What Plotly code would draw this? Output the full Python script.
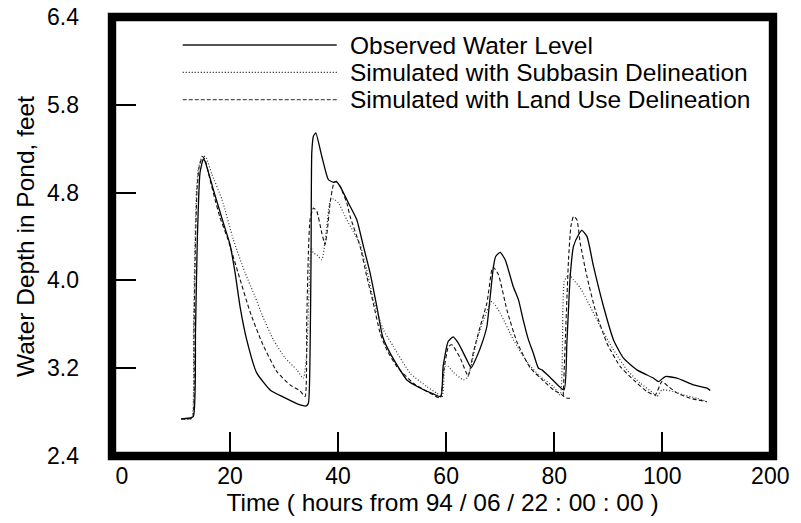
import plotly.graph_objects as go

# ---- data (hours from 94/06/22 00:00, water depth in feet) ----
obs_t = [10.93, 12.22, 13.20, 13.61, 13.94, 14.44, 15.06, 15.37, 16.91, 18.76,
         20.00, 20.93, 21.85, 23.09, 24.94, 27.41, 29.81, 32.96, 34.07, 34.50,
         34.81, 35.00, 35.13, 35.43, 35.87, 36.98, 38.20, 39.13, 39.63, 40.37,
         42.22, 43.46, 44.69, 45.93, 47.17, 48.24, 49.63, 52.72, 55.19, 57.59,
         59.02, 59.44, 60.37, 61.30, 62.22, 63.83, 64.63, 65.69, 66.85, 67.54,
         68.15, 68.76, 69.17, 70.00, 70.93, 72.41, 73.39, 74.26, 75.24, 76.11,
         77.09, 77.72, 79.26, 81.81, 82.35, 82.96, 83.57, 84.50, 85.13, 86.06,
         87.28, 89.13, 90.98, 92.83, 95.31, 98.39, 99.31, 100.56, 102.72, 105.80,
         108.28, 108.89]
obs_v = [2.738, 2.744, 2.759, 3.550, 4.371, 4.982, 5.107, 5.085, 4.827, 4.523,
         4.325, 4.070, 3.762, 3.458, 3.157, 3.002, 2.938, 2.865, 2.856, 2.881,
         3.340, 4.252, 5.165, 5.313, 5.344, 5.131, 4.918, 4.894, 4.903, 4.857,
         4.675, 4.553, 4.310, 4.067, 3.762, 3.489, 3.337, 3.093, 3.020, 2.966,
         2.941, 3.215, 3.443, 3.486, 3.431, 3.276, 3.203, 3.306, 3.458, 3.580,
         3.851, 4.127, 4.218, 4.255, 4.188, 3.945, 3.823, 3.641, 3.458, 3.340,
         3.200, 3.185, 3.116, 3.002, 3.431, 4.036, 4.310, 4.416, 4.456, 4.401,
         4.127, 3.762, 3.458, 3.291, 3.185, 3.109, 3.078, 3.124, 3.109, 3.048,
         3.018, 2.996]

sub_t = [10.93, 12.22, 12.96, 13.24, 13.52, 13.80, 14.17, 14.91, 15.56, 16.67,
         18.52, 20.61, 22.78, 24.63, 25.93, 28.02, 30.19, 32.35, 33.57, 34.20,
         34.63, 35.00, 35.43, 36.06, 36.98, 37.91, 38.52, 39.13, 40.06, 41.61,
         42.83, 44.07, 45.31, 46.54, 48.39, 50.24, 53.33, 56.43, 58.28, 59.26,
         59.81, 60.37, 61.35, 63.20, 63.98, 65.69, 66.91, 68.46, 70.00, 72.46,
         74.94, 77.41, 79.87, 81.11, 81.61, 81.85, 82.35, 82.78, 83.57, 84.81,
         86.67, 88.52, 90.98, 93.46, 95.93, 98.39, 99.02, 99.94, 102.09, 103.94,
         106.43, 108.28]
sub_v = [2.738, 2.733, 2.747, 3.550, 4.371, 4.827, 5.028, 5.137, 5.119, 4.964,
         4.736, 4.371, 4.070, 3.851, 3.686, 3.458, 3.294, 3.185, 3.109, 3.340,
         3.915, 4.298, 4.249, 4.234, 4.188, 4.492, 4.720, 4.742, 4.706, 4.553,
         4.444, 4.325, 4.097, 3.823, 3.550, 3.397, 3.155, 3.032, 2.972, 2.938,
         3.215, 3.215, 3.162, 3.093, 3.116, 3.458, 3.641, 3.808, 3.702, 3.458,
         3.258, 3.124, 3.032, 2.957, 3.732, 3.990, 4.036, 4.051, 4.006, 3.933,
         3.762, 3.580, 3.367, 3.185, 3.063, 2.972, 2.941, 3.002, 2.987, 2.957,
         2.926, 2.895]

lu_t = [10.93, 12.22, 13.06, 13.33, 13.61, 13.89, 14.26, 14.91, 15.37, 16.30,
        17.22, 18.15, 19.63, 21.48, 23.70, 25.93, 28.70, 31.11, 32.96, 33.89,
        34.20, 34.50, 34.81, 35.43, 36.06, 36.98, 37.59, 38.02, 38.52, 39.13,
        39.63, 40.37, 41.61, 42.22, 44.07, 45.31, 46.54, 47.78, 49.02, 50.87,
        53.94, 57.04, 58.89, 59.50, 60.43, 61.06, 62.59, 64.07, 65.06, 66.30,
        67.54, 68.46, 68.76, 69.69, 71.24, 73.09, 75.56, 78.02, 79.87, 81.43,
        82.22, 83.28, None,
        81.67, 82.04, 82.65, 83.09, 83.57, 84.20, 84.81, 86.06, 87.59, 89.76,
        92.22, 94.69, 97.17, 98.70, 99.94, 101.17, 102.72, 105.19, 108.28]
lu_v = [2.738, 2.738, 2.747, 3.550, 4.371, 4.827, 5.028, 5.128, 5.101, 4.918,
        4.736, 4.572, 4.371, 4.070, 3.714, 3.431, 3.166, 3.048, 2.993, 2.941,
        3.641, 4.252, 4.553, 4.660, 4.629, 4.432, 4.325, 4.462, 4.706, 4.873,
        4.903, 4.857, 4.706, 4.583, 4.310, 4.036, 3.787, 3.520, 3.367, 3.215,
        3.063, 2.972, 2.929, 3.155, 3.397, 3.413, 3.294, 3.130, 3.349, 3.580,
        3.793, 4.097, 4.120, 4.051, 3.732, 3.440, 3.203, 3.084, 3.002, 2.957,
        2.929, 2.926, None,
        2.947, 3.431, 4.188, 4.492, 4.583, 4.553, 4.341, 4.036, 3.732, 3.428,
        3.215, 3.093, 2.987, 2.957, 3.078, 3.032, 2.975, 2.926, 2.895]

x_tick_vals = [0, 20, 40, 60, 80, 100, 120]
x_tick_text = ["0", "20", "40", "60", "80", "100", "200"]
y_tick_vals = [2.4, 3.2, 4.0, 4.8, 5.6, 6.4]
y_tick_text = ["2.4", "3.2", "4.0", "4.8", "5.8", "6.4"]

series_names = ["Observed Water Level",
                "Simulated with Subbasin Delineation",
                "Simulated with Land Use Delineation"]

FONT = "Liberation Sans, Arial, Helvetica, sans-serif"
SMOOTH = 0.5

fig = go.Figure()
fig.add_trace(go.Scatter(x=sub_t, y=sub_v, mode="lines", name=series_names[1],
                         line=dict(color="#333333", width=1.2, dash="1px,2px",
                                   shape="spline", smoothing=SMOOTH),
                         xaxis="x2", showlegend=False))
fig.add_trace(go.Scatter(x=lu_t, y=lu_v, mode="lines", name=series_names[2],
                         line=dict(color="#111111", width=1.1, dash="4px,2.5px",
                                   shape="spline", smoothing=SMOOTH),
                         connectgaps=False, showlegend=False))
fig.add_trace(go.Scatter(x=obs_t, y=obs_v, mode="lines", name=series_names[0],
                         line=dict(color="#000000", width=1.3,
                                   shape="spline", smoothing=SMOOTH),
                         showlegend=False))

# manual legend (long line samples)
leg_rows = [0.936, 0.874, 0.812]
leg_styles = [dict(color="#555555", width=2, dash="solid"),
              dict(color="#111111", width=1.2, dash="1px,2px"),
              dict(color="#555555", width=1.2, dash="4px,2px")]
shapes = []
annotations = []
for name, yy, st in zip(series_names, leg_rows, leg_styles):
    shapes.append(dict(type="line", xref="paper", yref="paper",
                       x0=0.107, x1=0.340, y0=yy, y1=yy, line=st))
    annotations.append(dict(text=name, xref="paper", yref="paper", x=0.357, y=yy,
                            xanchor="left", yanchor="middle", showarrow=False,
                            font=dict(family=FONT, size=24.5, color="black")))

# thick black frame
shapes.append(dict(type="rect", xref="paper", yref="paper", x0=0, x1=1, y0=0, y1=1,
                   line=dict(color="black", width=8.4), fillcolor="rgba(0,0,0,0)",
                   layer="above"))

fig.update_layout(
    width=801, height=523,
    margin=dict(l=112, r=28, t=17, b=67),
    paper_bgcolor="white", plot_bgcolor="white",
    font=dict(family=FONT, color="black"),
    shapes=shapes, annotations=annotations,
    showlegend=False,
    xaxis=dict(range=[-1.85, 120.5], tickmode="array", tickvals=x_tick_vals,
               ticktext=x_tick_text, ticks="", showgrid=False, zeroline=False,
               showline=False, tickfont=dict(size=23), ticklabelstandoff=4,
               ticklabeloverflow="allow", automargin=False,
               title=dict(text="Time ( hours from 94 / 06 / 22 : 00 : 00 )",
                          font=dict(size=24.5), standoff=1)),
    xaxis2=dict(overlaying="x", matches="x", range=[-1.85, 120.5], anchor="y",
                side="bottom", tickmode="array", tickvals=[20, 40, 60, 80, 100],
                ticks="inside", ticklen=24, tickwidth=2, tickcolor="black",
                showticklabels=False, showgrid=False, zeroline=False, showline=False),
    yaxis=dict(range=[2.4, 6.4], tickmode="array", tickvals=y_tick_vals,
               ticktext=y_tick_text, ticks="inside", ticklen=24, tickwidth=2,
               tickcolor="black", showgrid=False, zeroline=False, showline=False,
               tickfont=dict(size=23), ticklabelstandoff=32, automargin=False,
               ticklabeloverflow="allow",
               title=dict(text="Water Depth in Pond, feet", font=dict(size=24.5),
                          standoff=5)),
)

# remove the default 8px page margin so the figure sits at the window's corner
fig.write_html("out.html",
               config={"displayModeBar": False, "staticPlot": True},
               post_script="document.body.style.margin='0';"
                           "document.body.style.overflow='hidden';")
